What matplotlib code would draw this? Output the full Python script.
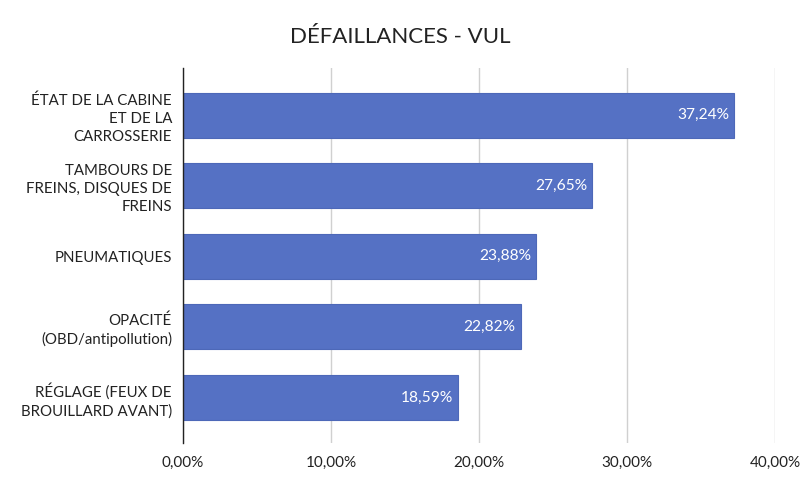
import matplotlib
matplotlib.use("Agg")
import matplotlib.pyplot as plt

categories = ["ÉTAT DE LA CABINE\nET DE LA\nCARROSSERIE",
              "TAMBOURS DE\nFREINS, DISQUES DE\nFREINS",
              "PNEUMATIQUES",
              "OPACITÉ\n(OBD/antipollution)",
              "RÉGLAGE (FEUX DE\nBROUILLARD AVANT)"]
values = [37.24, 27.65, 23.88, 22.82, 18.59]
xticks = [0, 10, 20, 30, 40]
title = "DÉFAILLANCES - VUL"

plt.rcParams['font.family'] = ['Lato', 'DejaVu Sans']

fig = plt.figure(figsize=(8, 4.94), dpi=100)
ax = fig.add_axes([0.22875, 0.1032, 0.74, 0.759])

pos = list(range(len(categories)))
ax.barh(pos, values, height=0.64, color='#5571C4', edgecolor='#4d68b8', linewidth=0.8, zorder=3)
for p, v in zip(pos, values):
    ax.text(v - 0.35, p, f"{v:.2f}%".replace('.', ','), color='white', ha='right', va='center',
            fontsize=11.2, zorder=4)

ax.set_xlim(0, 40)
ax.set_ylim(4.645, -0.666)
ax.set_xticks(xticks)
ax.set_xticklabels([f"{x:.2f}%".replace('.', ',') for x in xticks], fontsize=11, color='#222222')
ax.set_yticks(pos)
ax.set_yticklabels(categories, fontsize=10.8, color='#222222', linespacing=1.35, ha='right')
ax.tick_params(axis='both', length=0)
ax.tick_params(axis='x', pad=9)
ax.tick_params(axis='y', pad=8)
ax.xaxis.grid(True, color='#d0d0d0', linewidth=1, zorder=0)
for s in ['top', 'right', 'bottom']:
    ax.spines[s].set_visible(False)
ax.spines['left'].set_color('#222222')
ax.spines['left'].set_linewidth(1)
ax.spines['left'].set_zorder(5)

fig.text(0.5, 0.925, title, ha='center', va='center', fontsize=16, color='#222222')

fig.savefig("out.png", dpi=100)
